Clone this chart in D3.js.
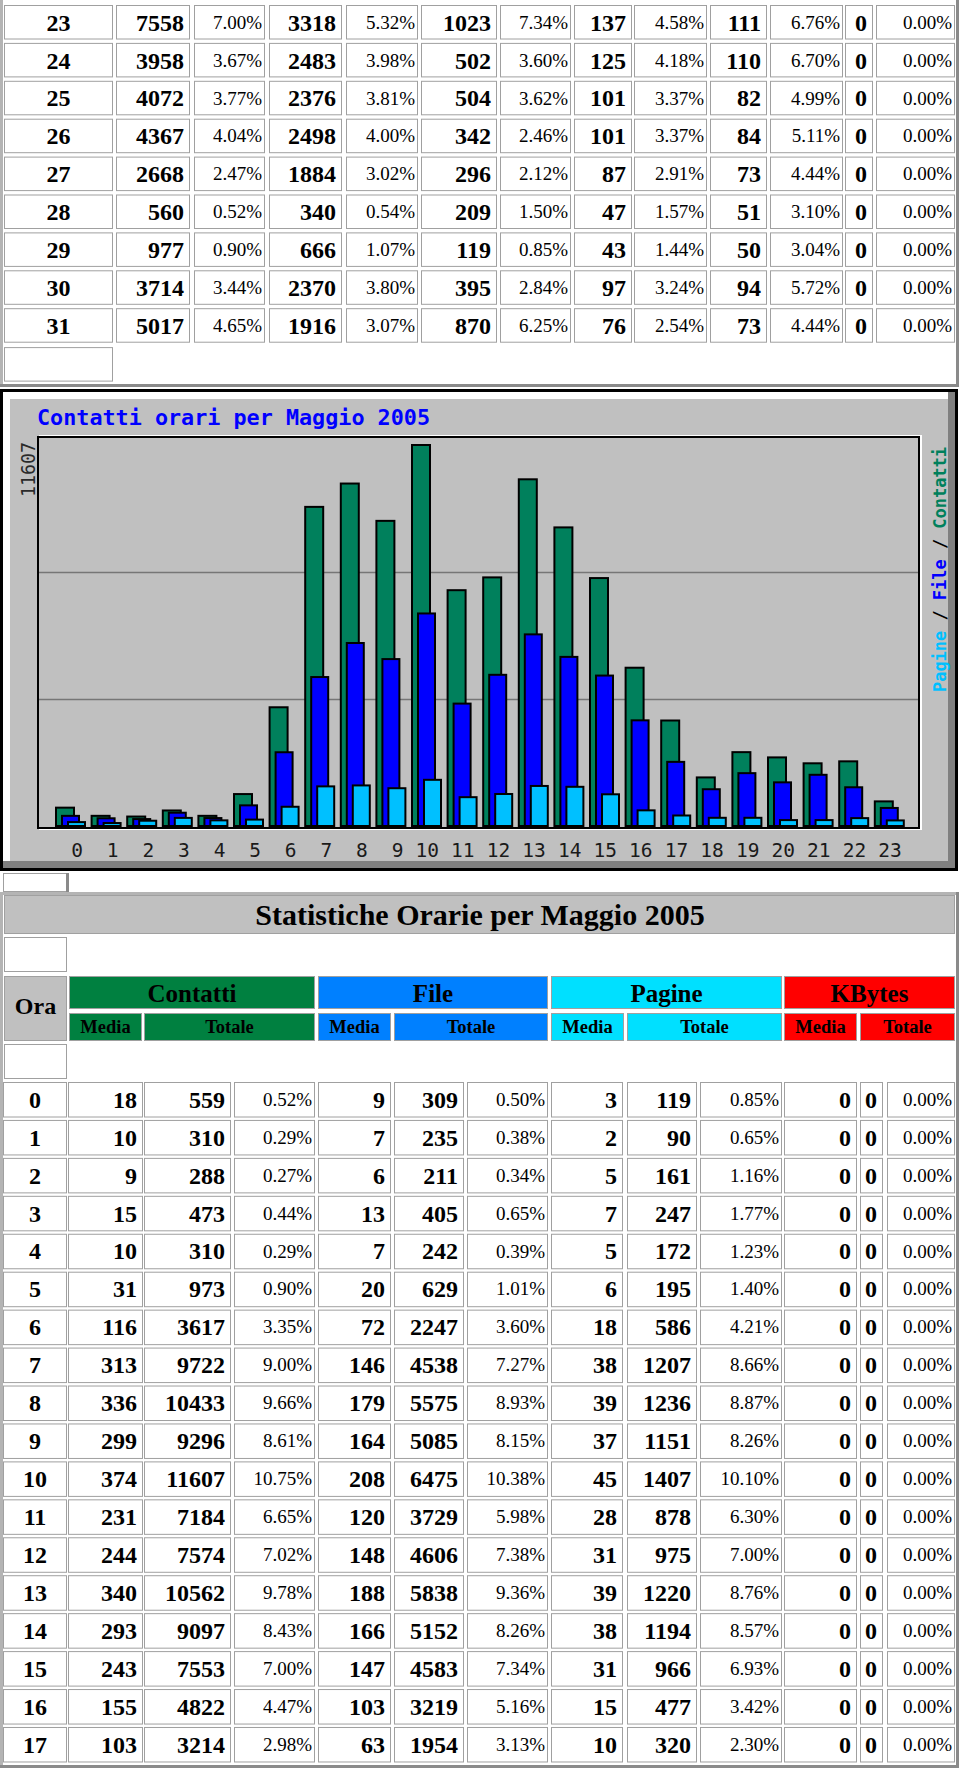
<!DOCTYPE html>
<html>
<head>
<meta charset="utf-8">
<script src="https://cdn.jsdelivr.net/npm/d3@7"></script>
<style>
  body { margin: 0; background: #fff; }
  svg { display: block; }
</style>
</head>
<body>
<svg id="page" width="960" height="1771"></svg>
<script>
// ---- daily table (tail of the month) ----
const days = [23, 24, 25, 26, 27, 28, 29, 30, 31];
const dayHits = [7558, 3958, 4072, 4367, 2668, 560, 977, 3714, 5017];
const dayHitsPct = [7.00, 3.67, 3.77, 4.04, 2.47, 0.52, 0.90, 3.44, 4.65];
const dayFiles = [3318, 2483, 2376, 2498, 1884, 340, 666, 2370, 1916];
const dayFilesPct = [5.32, 3.98, 3.81, 4.00, 3.02, 0.54, 1.07, 3.80, 3.07];
const dayPages = [1023, 502, 504, 342, 296, 209, 119, 395, 870];
const dayPagesPct = [7.34, 3.60, 3.62, 2.46, 2.12, 1.50, 0.85, 2.84, 6.25];
const dayVisits = [137, 125, 101, 101, 87, 47, 43, 97, 76];
const dayVisitsPct = [4.58, 4.18, 3.37, 3.37, 2.91, 1.57, 1.44, 3.24, 2.54];
const daySites = [111, 110, 82, 84, 73, 51, 50, 94, 73];
const daySitesPct = [6.76, 6.70, 4.99, 5.11, 4.44, 3.10, 3.04, 5.72, 4.44];
const dayKB = [0, 0, 0, 0, 0, 0, 0, 0, 0];
const dayKBPct = [0, 0, 0, 0, 0, 0, 0, 0, 0];

// ---- hourly graph ----
const hours = d3.range(0, 24);
const hourHits = [559, 310, 288, 473, 310, 973, 3617, 9722, 10433, 9296, 11607, 7184,
                  7574, 10562, 9097, 7553, 4822, 3214, 1480, 2250, 2090, 1910, 1970, 750];
const hourFiles = [309, 235, 211, 405, 242, 629, 2247, 4538, 5575, 5085, 6475, 3729,
                   4606, 5838, 5152, 4583, 3219, 1954, 1120, 1610, 1330, 1560, 1180, 550];
const hourPages = [119, 90, 161, 247, 172, 195, 586, 1207, 1236, 1151, 1407, 878,
                   975, 1220, 1194, 966, 477, 320, 250, 250, 180, 180, 240, 170];
const graphTitle = "Contatti orari per Maggio 2005";

// ---- hourly table (rows shown: 0..17) ----
const tableHours = d3.range(0, 18);
const hitsAvg = [18, 10, 9, 15, 10, 31, 116, 313, 336, 299, 374, 231, 244, 340, 293, 243, 155, 103];
const hitsPct = [0.52, 0.29, 0.27, 0.44, 0.29, 0.90, 3.35, 9.00, 9.66, 8.61, 10.75, 6.65, 7.02, 9.78, 8.43, 7.00, 4.47, 2.98];
const filesAvg = [9, 7, 6, 13, 7, 20, 72, 146, 179, 164, 208, 120, 148, 188, 166, 147, 103, 63];
const filesPct = [0.50, 0.38, 0.34, 0.65, 0.39, 1.01, 3.60, 7.27, 8.93, 8.15, 10.38, 5.98, 7.38, 9.36, 8.26, 7.34, 5.16, 3.13];
const pagesAvg = [3, 2, 5, 7, 5, 6, 18, 38, 39, 37, 45, 28, 31, 39, 38, 31, 15, 10];
const pagesPct = [0.85, 0.65, 1.16, 1.77, 1.23, 1.40, 4.21, 8.66, 8.87, 8.26, 10.10, 6.30, 7.00, 8.76, 8.57, 6.93, 3.42, 2.30];
const kbAvg = tableHours.map(() => 0);
const kbTotal = tableHours.map(() => 0);
const kbPct = tableHours.map(() => 0);
const tableTitle = "Statistiche Orarie per Maggio 2005";
const groupNames = ["Contatti", "File", "Pagine", "KBytes"];
const subNames = ["Media", "Totale"];

// ---- look ----
const SERIF = "'Liberation Serif', 'Times New Roman', serif";
const MONO = "'DejaVu Sans Mono', monospace";
const GREY = "#c0c0c0";
const CELL_LINE = "#a0a0a0";
const groupColors = ["#008040", "#0080ff", "#00e0ff", "#ff0000"];
const seriesColors = { hits: "#00805c", files: "#0000ff", pages: "#00c0ff" };
const pct = v => d3.format(".2f")(v) + "%";

const svg = d3.select("#page");

function bevel(g, x0, y0, x1, y1, light, dark, w) {
  const h = w / 2;
  g.append("line").attr("x1", x0).attr("x2", x1).attr("y1", y0 + h).attr("y2", y0 + h)
    .attr("stroke", light).attr("stroke-width", w);
  g.append("line").attr("x1", x0 + h).attr("x2", x0 + h).attr("y1", y0).attr("y2", y1)
    .attr("stroke", light).attr("stroke-width", w);
  g.append("line").attr("x1", x0).attr("x2", x1).attr("y1", y1 - h).attr("y2", y1 - h)
    .attr("stroke", dark).attr("stroke-width", w);
  g.append("line").attr("x1", x1 - h).attr("x2", x1 - h).attr("y1", y0).attr("y2", y1)
    .attr("stroke", dark).attr("stroke-width", w);
}

function cell(g, x0, x1, y0, h, fill) {
  return g.append("rect")
    .attr("x", x0 + 0.5).attr("y", y0 + 0.5)
    .attr("width", x1 - x0 - 1).attr("height", h - 1)
    .attr("fill", fill).attr("stroke", CELL_LINE);
}

// draws a grid of rows, each row an array of {t, kind}
function drawRows(g, rows, cols, rowTop, rowH) {
  const rowG = g.selectAll("g.row").data(rows).join("g")
    .attr("class", "row")
    .attr("transform", (d, i) => `translate(0,${rowTop(i)})`);
  rowG.selectAll("rect").data(d => d).join("rect")
    .attr("x", (d, j) => cols[j][0] + 0.5).attr("y", 0.5)
    .attr("width", (d, j) => cols[j][1] - cols[j][0] - 1).attr("height", rowH - 1)
    .attr("fill", "#fff").attr("stroke", CELL_LINE);
  rowG.selectAll("text").data(d => d).join("text")
    .attr("font-family", SERIF)
    .attr("font-weight", d => d.kind === "pct" ? "normal" : "bold")
    .attr("font-size", d => d.kind === "pct" ? 19 : 24)
    .attr("text-anchor", d => d.kind === "label" ? "middle" : "end")
    .attr("x", (d, j) => d.kind === "label" ? (cols[j][0] + cols[j][1]) / 2
      : cols[j][1] - (d.kind === "pct" ? 3 : 6))
    .attr("y", d => d.kind === "pct" ? 23.8 : 25.7)
    .attr("fill", "#000")
    .text(d => d.t);
}

// ================= top table =================
const dayTable = svg.append("g");
const topCols = [[4, 113], [116, 190], [194, 265], [269, 342], [346, 418], [421, 497], [500, 571],
                 [574, 632], [634, 707], [710, 767], [770, 843], [845, 873], [876, 955]];
const topRowY = d3.scaleLinear().domain([0, 1]).range([5, 42.9]);
const topRows = days.map((d, i) => [
  { t: d, kind: "label" },
  { t: dayHits[i], kind: "num" }, { t: pct(dayHitsPct[i]), kind: "pct" },
  { t: dayFiles[i], kind: "num" }, { t: pct(dayFilesPct[i]), kind: "pct" },
  { t: dayPages[i], kind: "num" }, { t: pct(dayPagesPct[i]), kind: "pct" },
  { t: dayVisits[i], kind: "num" }, { t: pct(dayVisitsPct[i]), kind: "pct" },
  { t: daySites[i], kind: "num" }, { t: pct(daySitesPct[i]), kind: "pct" },
  { t: dayKB[i], kind: "num" }, { t: pct(dayKBPct[i]), kind: "pct" }
]);
drawRows(dayTable, topRows, topCols, topRowY, 34.5);
cell(dayTable, topCols[0][0], topCols[0][1], topRowY(days.length) + 1, 34.5, "#fff");
bevel(dayTable, 0, -6, 959, 387, "#b4b4b4", "#8a8a8a", 3);

// ================= hourly graph =================
const gr = svg.append("g");
gr.append("rect").attr("x", 1.5).attr("y", 390.5).attr("width", 955).attr("height", 479)
  .attr("fill", GREY).attr("stroke", "#000").attr("stroke-width", 3);
bevel(gr, 3, 392, 955, 868, "#ffffff", "#808080", 7);

const plot = { left: 38, right: 919, top: 437, bottom: 828 };
gr.append("rect").attr("x", plot.left + 2).attr("y", plot.top - 1)
  .attr("width", plot.right - plot.left).attr("height", plot.bottom - plot.top + 2)
  .attr("fill", "none").attr("stroke", "#fff").attr("stroke-width", 2);
gr.append("rect").attr("x", plot.left).attr("y", plot.top)
  .attr("width", plot.right - plot.left).attr("height", plot.bottom - plot.top)
  .attr("fill", GREY).attr("stroke", "#000").attr("stroke-width", 2);

const maxHits = d3.max(hourHits);
const x = d3.scaleBand().domain(hours).range([55, 55 + 24 * 35.6]);
const y = d3.scaleLinear().domain([0, maxHits]).range([826, 445]);

gr.selectAll("line.grid").data([maxHits / 3, maxHits * 2 / 3]).join("line")
  .attr("class", "grid")
  .attr("x1", plot.left + 1).attr("x2", plot.right - 1)
  .attr("y1", d => Math.round(y(d)) + 0.5).attr("y2", d => Math.round(y(d)) + 0.5)
  .attr("stroke", "#767676").attr("stroke-width", 1.5);

const series = [
  { key: "hits", values: hourHits, dx: 1, w: 18 },
  { key: "files", values: hourFiles, dx: 7, w: 17 },
  { key: "pages", values: hourPages, dx: 13, w: 17 }
];
const hourG = gr.selectAll("g.hour").data(hours).join("g")
  .attr("class", "hour")
  .attr("transform", h => `translate(${x(h)},0)`);
hourG.selectAll("rect").data(h => series.map(s => ({ s, v: s.values[h] }))).join("rect")
  .attr("x", d => d.s.dx)
  .attr("y", d => y(d.v))
  .attr("width", d => d.s.w)
  .attr("height", d => y(0) - y(d.v))
  .attr("fill", d => seriesColors[d.s.key])
  .attr("stroke", "#000").attr("stroke-width", 2);

gr.selectAll("text.xlab").data(hours).join("text")
  .attr("class", "xlab")
  .attr("x", h => x(h) + 28).attr("y", 857)
  .attr("text-anchor", "end")
  .attr("font-family", MONO).attr("font-size", 19.5).attr("fill", "#1a1a1a")
  .text(h => h);

gr.append("text").attr("x", 37).attr("y", 425)
  .attr("font-family", MONO).attr("font-weight", "bold").attr("font-size", 21)
  .attr("fill", "#0000ff").attr("textLength", 393).attr("lengthAdjust", "spacingAndGlyphs")
  .text(graphTitle);

gr.append("text").attr("transform", "translate(35,497) rotate(-90)")
  .attr("font-family", MONO).attr("font-size", 19).attr("fill", "#2a2a2a")
  .attr("textLength", 55).attr("lengthAdjust", "spacingAndGlyphs")
  .text(maxHits);

const legend = gr.append("text").attr("transform", "translate(946,692) rotate(-90)")
  .attr("font-family", MONO).attr("font-weight", "bold").attr("font-size", 18)
  .attr("textLength", 245).attr("lengthAdjust", "spacingAndGlyphs");
[["Pagine", seriesColors.pages], [" / ", "#000"], ["File", seriesColors.files],
 [" / ", "#000"], ["Contatti", seriesColors.hits]].forEach(([t, c]) =>
  legend.append("tspan").attr("fill", c).text(t));

// ================= hourly table =================
const tb = svg.append("g");
cell(tb, 3, 67, 873, 19, "#fff");
tb.append("line").attr("x1", 67.5).attr("x2", 67.5).attr("y1", 873).attr("y2", 893)
  .attr("stroke", "#8a8a8a").attr("stroke-width", 3);

cell(tb, 4, 955, 895, 39, GREY);
tb.append("text").attr("x", 480).attr("y", 925).attr("text-anchor", "middle")
  .attr("font-family", SERIF).attr("font-weight", "bold").attr("font-size", 30)
  .text(tableTitle);

cell(tb, 4, 67, 937, 35, "#fff");
cell(tb, 4, 67, 976, 65, GREY);
tb.append("text").attr("x", 35.5).attr("y", 1014).attr("text-anchor", "middle")
  .attr("font-family", SERIF).attr("font-weight", "bold").attr("font-size", 24)
  .text("Ora");

const groupSpans = [[69, 315], [318, 548], [551, 782], [784, 955]];
const subSpans = [[[69, 142], [144, 315]], [[318, 391], [394, 548]],
                  [[551, 624], [627, 782]], [[784, 857], [860, 955]]];
groupNames.forEach((name, i) => {
  const [a, b] = groupSpans[i];
  cell(tb, a, b, 976, 33, groupColors[i]);
  tb.append("text").attr("x", (a + b) / 2).attr("y", 1001.7).attr("text-anchor", "middle")
    .attr("font-family", SERIF).attr("font-weight", "bold").attr("font-size", 25)
    .attr("fill", "#000").text(name);
  subSpans[i].forEach(([c, d], k) => {
    cell(tb, c, d, 1013, 28, groupColors[i]);
    tb.append("text").attr("x", (c + d) / 2).attr("y", 1032.7).attr("text-anchor", "middle")
      .attr("font-family", SERIF).attr("font-weight", "bold").attr("font-size", 18.5)
      .attr("fill", "#000").text(subNames[k]);
  });
});

cell(tb, 4, 67, 1044, 35, "#fff");

const hCols = [[3, 67], [68, 143], [144, 231], [234, 315], [318, 391], [394, 464], [467, 548],
               [551, 623], [627, 697], [700, 782], [784, 857], [860, 883], [887, 955]];
const hRowY = d3.scaleLinear().domain([0, 1]).range([1082, 1119.94]);
const hRows = tableHours.map((h, i) => [
  { t: h, kind: "label" },
  { t: hitsAvg[i], kind: "num" }, { t: hourHits[h], kind: "num" }, { t: pct(hitsPct[i]), kind: "pct" },
  { t: filesAvg[i], kind: "num" }, { t: hourFiles[h], kind: "num" }, { t: pct(filesPct[i]), kind: "pct" },
  { t: pagesAvg[i], kind: "num" }, { t: hourPages[h], kind: "num" }, { t: pct(pagesPct[i]), kind: "pct" },
  { t: kbAvg[i], kind: "num" }, { t: kbTotal[i], kind: "num" }, { t: pct(kbPct[i]), kind: "pct" }
]);
drawRows(tb, hRows, hCols, hRowY, 35.5);
bevel(tb, 0, 892, 959, 1768, "#b4b4b4", "#8a8a8a", 3);
</script>
</body>
</html>
